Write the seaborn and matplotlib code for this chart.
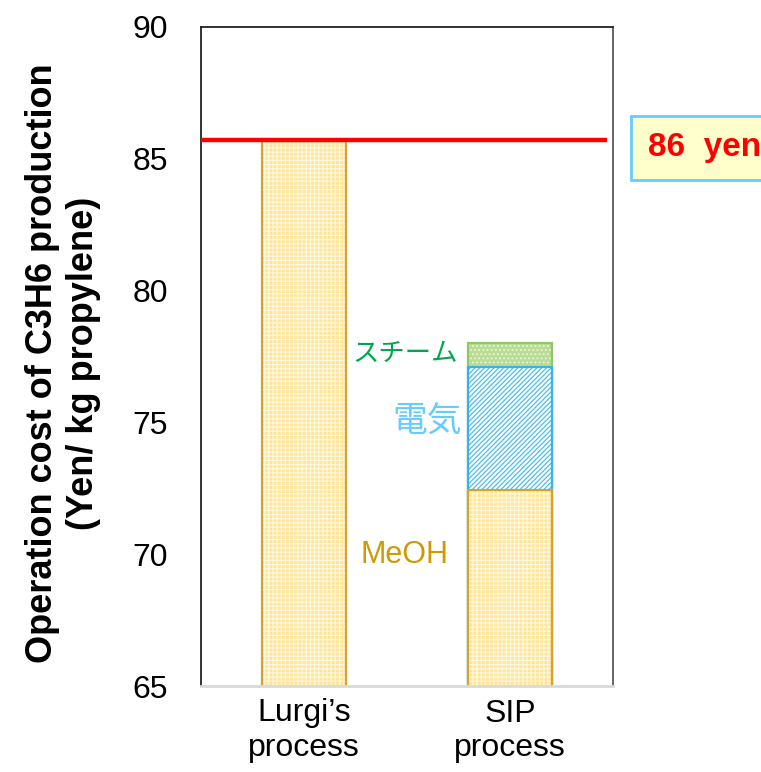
import matplotlib
matplotlib.use("Agg")
import matplotlib.pyplot as plt
import numpy as np
import pandas as pd
import seaborn as sns

# ---- data ----
categories = ["Lurgi\u2019s\nprocess", "SIP\nprocess"]
meoh = [85.7, 72.45]
electricity = [0.0, 4.65]
steam = [0.0, 0.9]
target_cost = 85.7
target_label = "86  yen"
yticks = [65, 70, 75, 80, 85, 90]
seg_labels = {"steam": "スチーム", "elec": "電気", "meoh": "MeOH"}

sns.set_theme(style="white")
plt.rcParams["font.family"] = ["Liberation Sans", "Noto Sans CJK JP", "DejaVu Sans"]
plt.rcParams["hatch.linewidth"] = 0.9

df = pd.DataFrame({"process": categories, "meoh": meoh,
                   "elec": electricity, "steam": steam})
df["top_meoh"] = df["meoh"]
df["top_elec"] = df["meoh"] + df["elec"]
df["top_steam"] = df["top_elec"] + df["steam"]

W, H = 761, 772
fig = plt.figure(figsize=(W / 100, H / 100), dpi=100)
ax = fig.add_axes([201 / W, 1 - 686 / H, 412 / W, 659 / H])

layers = [
    # column, component, face, hatch colour, hatch, edge
    ("top_steam", "steam", "#B9DB93", "#E9F4DC", "....", "#93C765"),
    ("top_elec", "elec", "#FFFFFF", "#4DBDEE", "///////", "#35B4EC"),
    ("top_meoh", "meoh", "#FFE594", "#FFF7DE", "++++", "#D2A431"),
]
for col, comp, face, hcol, hatch, edge in layers:
    sub = df[df[comp] > 0]
    n0 = len(ax.patches)
    sns.barplot(data=sub, x="process", y=col, order=categories, ax=ax,
                width=0.41, saturation=1, color=face)
    for p in ax.patches[n0:]:
        p.set_facecolor(face)
        p.set_edgecolor(hcol)
        p.set_hatch(hatch)
        p.set_linewidth(0)
    sns.barplot(data=sub, x="process", y=col, order=categories, ax=ax,
                width=0.41, saturation=1, color=edge, fill=False, linewidth=1.6)

ax.hlines(target_cost, -0.5, 1.47, color="#FF0000", linewidth=3.2, zorder=5,
          clip_on=False)

ax.set_xlim(-0.5, 1.5)
ax.set_ylim(65, 90)
ax.set_yticks(yticks)
ax.set_xlabel("")
ax.set_ylabel("Operation cost of C3H6 production\n(Yen/ kg propylene)",
              fontsize=26, fontweight="bold", multialignment="center",
              color="#000000")
ax.yaxis.label.set(ha="center", va="center")
ax.yaxis.set_label_coords(-0.335, 0.49)
ax.tick_params(axis="y", length=0, pad=24, labelsize=23, labelcolor="#000000")
ax.tick_params(axis="x", length=0, pad=9, labelsize=23, labelcolor="#000000")
for lab in ax.get_xticklabels():
    lab.set_multialignment("center")

for s in ["left", "top"]:
    ax.spines[s].set_color("#222222")
    ax.spines[s].set_linewidth(1.3)
ax.spines["right"].set_color("#595959")
ax.spines["right"].set_linewidth(1.3)
ax.spines["bottom"].set_color("#D9D9D9")
ax.spines["bottom"].set_linewidth(2)

ax.text(0.748, 77.6, seg_labels["steam"], ha="right", va="center",
        fontsize=19, color="#00A550")
ax.text(0.60, 75.0, seg_labels["elec"], ha="center", va="center",
        fontsize=25, color="#66CCFF")
ax.text(0.49, 69.97, seg_labels["meoh"], ha="center", va="center",
        fontsize=22, color="#CC9A06")

ax.text(1.67, 85.41, target_label, ha="left", va="center", fontsize=24,
        fontweight="bold", color="#FF0000", clip_on=False,
        bbox=dict(boxstyle="square,pad=0.5", facecolor="#FFFFCC",
                  edgecolor="#66CCFF", linewidth=2))

fig.savefig("out.png", dpi=100)
